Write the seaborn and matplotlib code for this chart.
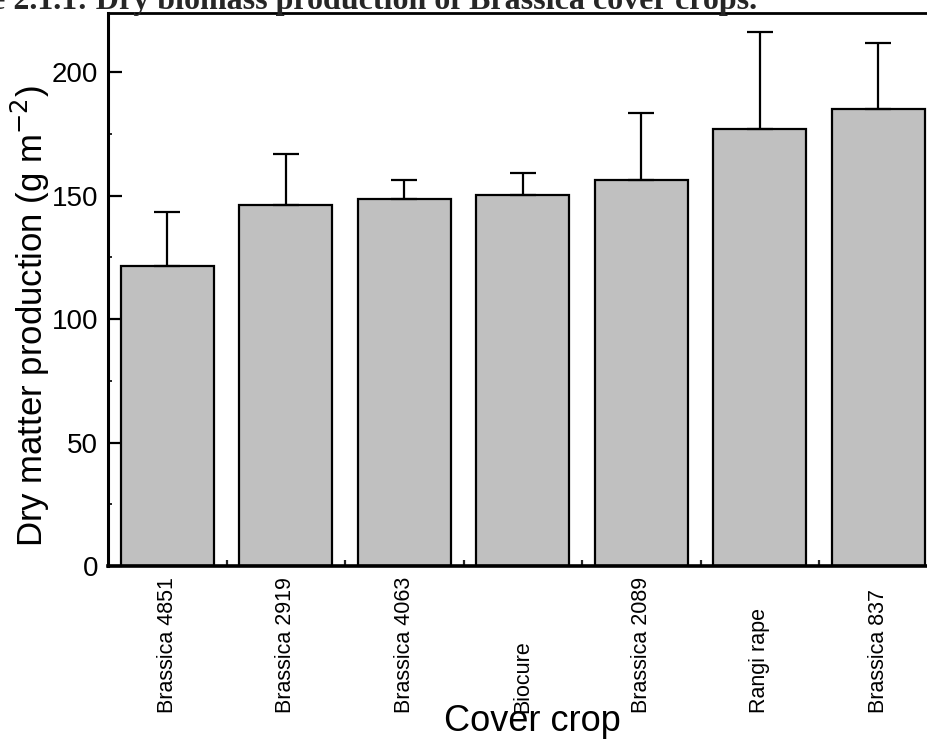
import matplotlib
matplotlib.use("Agg")
import matplotlib.pyplot as plt
from matplotlib.ticker import MultipleLocator
import seaborn as sns
import numpy as np
import pandas as pd

crops = ["Brassica 4851", "Brassica 2919", "Brassica 4063", "Biocure",
         "Brassica 2089", "Rangi rape", "Brassica 837"]
dry_matter = [121.5, 146.2, 148.6, 150.3, 156.5, 177.1, 185.3]
std_err = [21.8, 20.7, 7.6, 8.8, 26.9, 39.1, 26.4]

sns.set_style("ticks")
plt.rcParams["font.family"] = ["Liberation Sans", "DejaVu Sans"]

df = pd.DataFrame({"crop": crops, "dm": dry_matter})

fig = plt.figure(figsize=(9.27, 7.44), dpi=100)
ax = fig.add_axes([0.1165, 0.2392, 0.895, 0.7433])

sns.barplot(data=df, x="crop", y="dm", color="#c0c0c0", saturation=1,
            width=0.785, edgecolor="black", linewidth=1.6, ax=ax)

# upper error bars only
ax.errorbar(np.arange(len(crops)), dry_matter,
            yerr=[np.zeros(len(crops)), std_err],
            fmt="none", ecolor="black", elinewidth=1.6, capsize=9.7, capthick=1.6)

ax.set_xlim(-0.5, 6.5)
ax.set_ylim(0, 224)
ax.yaxis.set_major_locator(MultipleLocator(50))
ax.yaxis.set_minor_locator(MultipleLocator(25))
ax.set_xticks(np.arange(len(crops)))
ax.set_xticks(np.arange(len(crops)) + 0.5, minor=True)

for side in ["left", "top", "bottom", "right"]:
    ax.spines[side].set_color("black")
ax.spines["left"].set_linewidth(2.2)
ax.spines["bottom"].set_linewidth(2.6)
ax.spines["top"].set_linewidth(2.0)

ax.tick_params(axis="y", which="major", direction="in", length=10, width=1.6,
               labelsize=20, pad=7, colors="black")
ax.tick_params(axis="y", which="minor", direction="in", length=3, width=1.4)
ax.tick_params(axis="x", which="major", direction="in", length=8.5, width=1.6,
               labelsize=15.5, pad=106, colors="black")
ax.tick_params(axis="x", which="minor", direction="in", length=4.5, width=1.6)

ax.set_xticklabels(crops, rotation=90, va="bottom", ha="center")

ax.set_xlabel("Cover crop", fontsize=26, color="black")
ax.xaxis.set_label_coords(0.512, -0.282)
ax.xaxis.label.set_va("center")
ax.set_ylabel("Dry matter production (g m$^{-2}$)", fontsize=25, color="black")
ax.yaxis.set_label_coords(-0.094, 0.452)
ax.yaxis.label.set_va("center")

fig.text(757 / 927, 1 - 9 / 744, "Figure 2.1.1: Dry biomass production of Brassica cover crops.",
         ha="right", va="baseline", fontsize=23, fontweight="bold",
         family=["Liberation Serif", "DejaVu Serif"])

fig.savefig("out.png", dpi=100)
